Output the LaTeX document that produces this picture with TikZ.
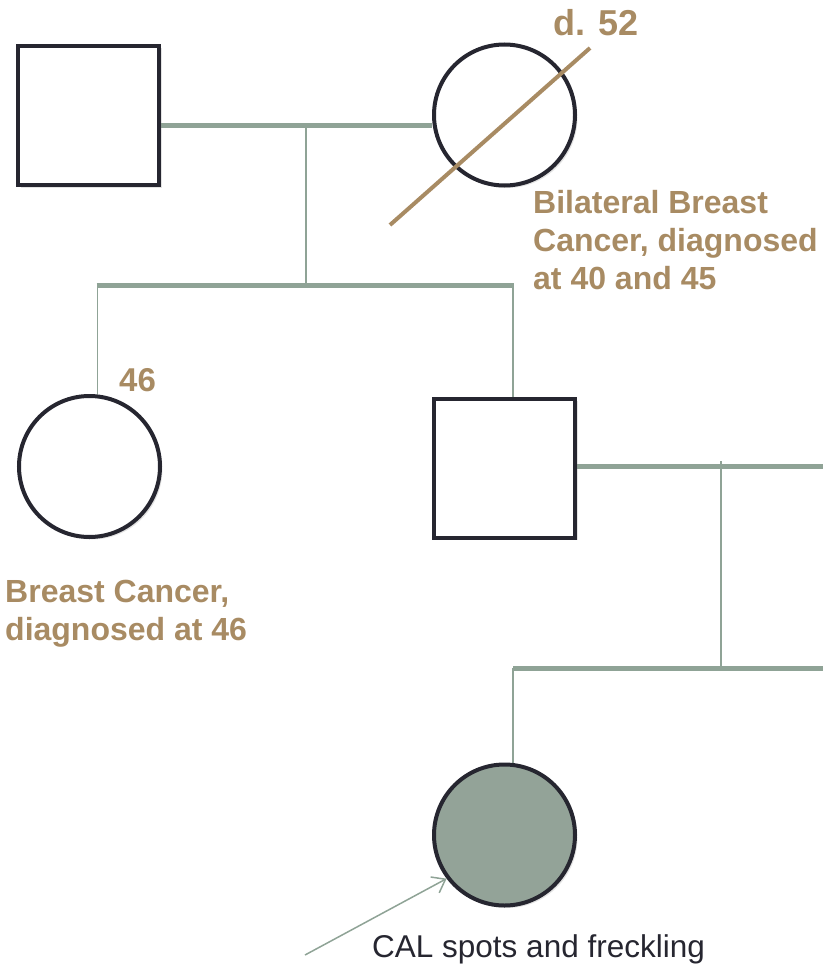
\documentclass[tikz,border=0pt]{standalone}
\usepackage{fontspec}
\setmainfont{Liberation Sans}
\usetikzlibrary{arrows.meta,shadows}
\definecolor{tanc}{RGB}{168,139,99}
\definecolor{linec}{RGB}{143,163,150}
\definecolor{darkc}{RGB}{38,38,48}
\definecolor{fillc}{RGB}{147,163,152}
\pgfdeclarelayer{bg}
\pgfsetlayers{bg,main}
\begin{document}
\begin{tikzpicture}[x=1pt,y=-1pt,
  person/.style={draw=darkc, line width=4pt, fill=white, inner sep=0pt,
    drop shadow={shadow xshift=2.5pt,shadow yshift=-2.5pt,opacity=0.22}},
  male/.style={person, rectangle, minimum width=141pt, minimum height=139pt},
  female/.style={person, circle, minimum size=141pt},
  rel/.style={draw=linec, line width=5pt},
  desc/.style={draw=linec, line width=1.5pt},
  note/.style={text=tanc, font=\bfseries\fontsize{32}{38}\selectfont, inner sep=0pt, align=left, anchor=north west}]
\useasboundingbox (0,0) rectangle (823,966);

% persons
\node[male] (gf) at (88.5,115.5) {};
\node[female] (gm) at (504.5,115) {};
\node[female] (aunt) at (89.5,466.5) {};
\node[male] (father) at (504.5,468) {};
\node[female, fill=fillc] (proband) at (504.5,835) {};

% coordinates for line junctions
\coordinate (m1) at (306,125);
\coordinate (s1) at (306,285);
\coordinate (s1l) at (97.5,285);
\coordinate (s1r) at (513,285);
\coordinate (m2) at (721,466);
\coordinate (m2end) at (823,466);
\coordinate (m2top) at (721,461);
\coordinate (s2) at (721,668);
\coordinate (s2l) at (513,668);
\coordinate (s2end) at (823,668);

\begin{pgfonlayer}{bg}
  \draw[rel] (gf.east |- m1) -- (gm.west |- m1);
  \draw[desc] (m1) -- (s1);
  \draw[rel] ([xshift=-1pt]s1l) -- ([xshift=1pt]s1r);
  \draw[desc] (s1l) -- (s1l |- aunt.north);
  \draw[desc] (s1r) -- (s1r |- father.north);
  \draw[rel] (father.east |- m2) -- (m2end);
  \draw[desc] (m2top) -- (s2);
  \draw[rel] (s2l) -- (s2end);
  \draw[desc] (s2l) -- (s2l |- proband.north);
\end{pgfonlayer}

% deceased slash
\coordinate (sl1) at (390,225);
\coordinate (sl2) at (590,48);
\draw[tanc, line width=4pt] (sl1) -- (sl2);

% arrow to proband
\coordinate (arrtail) at (305,955);
\draw[linec, line width=1.5pt, -{Straight Barb[length=12pt,width=18pt]}] (arrtail) -- (proband.217);

% texts
\node[note, anchor=base west, font=\bfseries\fontsize{36}{40}\selectfont] (d52) at (553,36) {d. 52};
\node[note, anchor=base west, font=\bfseries\fontsize{33}{38}\selectfont] (age46) at (119,391) {46};
\node[note] (gmnote) at (533,190) {Bilateral Breast\\Cancer, diagnosed\\at 40 and 45};
\node[note] (auntnote) at (5,580) {Breast Cancer,\\diagnosed at 46};
\node[anchor=base west, inner sep=0pt, text=darkc, font=\fontsize{31.5}{36}\selectfont] (cal) at (372,957) {CAL spots and freckling};
\end{tikzpicture}
\end{document}
